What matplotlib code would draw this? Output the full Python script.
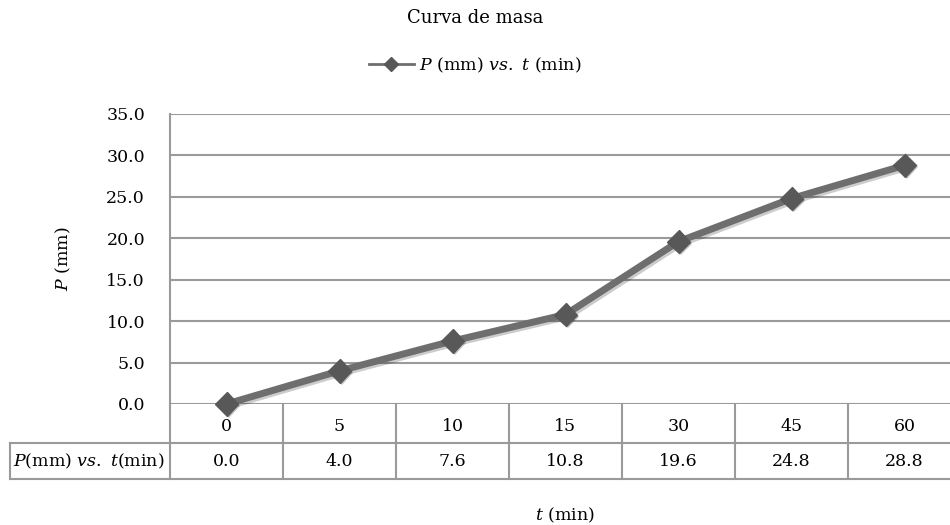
import matplotlib
matplotlib.use("Agg")
import matplotlib.pyplot as plt
import matplotlib.transforms as mtransforms
import matplotlib.patheffects as pe

# data
t_labels = ["0", "5", "10", "15", "30", "45", "60"]
p_values = [0.0, 4.0, 7.6, 10.8, 19.6, 24.8, 28.8]
y_ticks = [0, 5, 10, 15, 20, 25, 30, 35]

plt.rcParams['font.family'] = ['DejaVu Serif']
plt.rcParams['mathtext.fontset'] = 'dejavuserif'

fs = 12.5
grid_col = '#9a9a9a'
line_col = '#6e6e6e'
mark_col = '#585858'

fig = plt.figure(figsize=(9.5, 5.25), dpi=100)
ax = fig.add_axes([170 / 950, 1 - 404 / 525, 791 / 950, 290 / 525])

x = list(range(len(t_labels)))
ax.plot(x, p_values, color=line_col, lw=5, zorder=3, clip_on=False,
        path_effects=[pe.SimpleLineShadow(offset=(1.5, -1.5), alpha=0.2), pe.Normal()])
ax.plot(x, p_values, ls='none', marker='D', ms=12, color=mark_col, zorder=4, clip_on=False,
        path_effects=[pe.SimplePatchShadow(offset=(1.5, -1.5), alpha=0.25), pe.Normal()])

ax.set_xlim(-0.5, len(t_labels) - 0.5)
ax.set_ylim(0, 35)
ax.set_yticks(y_ticks)
ax.set_yticklabels([f"{v:.1f}" for v in y_ticks], fontsize=fs)
ax.set_xticks([])
ax.tick_params(axis='y', length=0, pad=18)
ax.yaxis.grid(True, color=grid_col, lw=1.5)
ax.set_axisbelow(True)
for s in ['top', 'right', 'bottom']:
    ax.spines[s].set_visible(False)
ax.spines['left'].set_color(grid_col)
ax.spines['left'].set_linewidth(1.5)

ax.set_ylabel(r'$P$ (mm)', fontsize=fs, labelpad=24)

# data table under the plot
tr = mtransforms.blended_transform_factory(ax.transData, ax.transAxes)
h1 = 39 / 290
h2 = 75 / 290
left = -0.5 - 160 / 113
n = len(t_labels)
kw = dict(color=grid_col, lw=1.5, clip_on=False, transform=tr)
ax.plot([left, n - 0.5], [-h1, -h1], **kw)
ax.plot([left, n - 0.5], [-h2, -h2], **kw)
ax.plot([left, left], [-h1, -h2], **kw)
for k in range(n + 1):
    ax.plot([k - 0.5, k - 0.5], [0, -h2], **kw)
for k in range(n):
    ax.text(k, -h1 / 2 - 0.01, t_labels[k], ha='center', va='center', fontsize=fs, transform=tr)
    ax.text(k, -(h1 + h2) / 2, f"{p_values[k]:.1f}", ha='center', va='center', fontsize=fs, transform=tr)
ax.text(-0.5 - 0.05, -(h1 + h2) / 2, r'$P$(mm) $vs.\ t$(min)', ha='right', va='center',
        fontsize=fs, transform=tr)

fig.text(0.5, 1 - 18 / 525, 'Curva de masa', ha='center', va='center', fontsize=13)
fig.text(565 / 950, 1 - 515 / 525, r'$t$ (min)', ha='center', va='center', fontsize=fs)

handle = plt.Line2D([], [], color=line_col, lw=2, marker='D', ms=7, markerfacecolor=mark_col,
                    markeredgecolor=mark_col)
fig.legend([handle], [r'$P$ (mm) $vs.\ t$ (min)'], loc='center', bbox_to_anchor=(0.5, 1 - 65 / 525),
           frameon=False, fontsize=fs, handlelength=2.6, handletextpad=0.3)

fig.savefig('out.png', dpi=100)
